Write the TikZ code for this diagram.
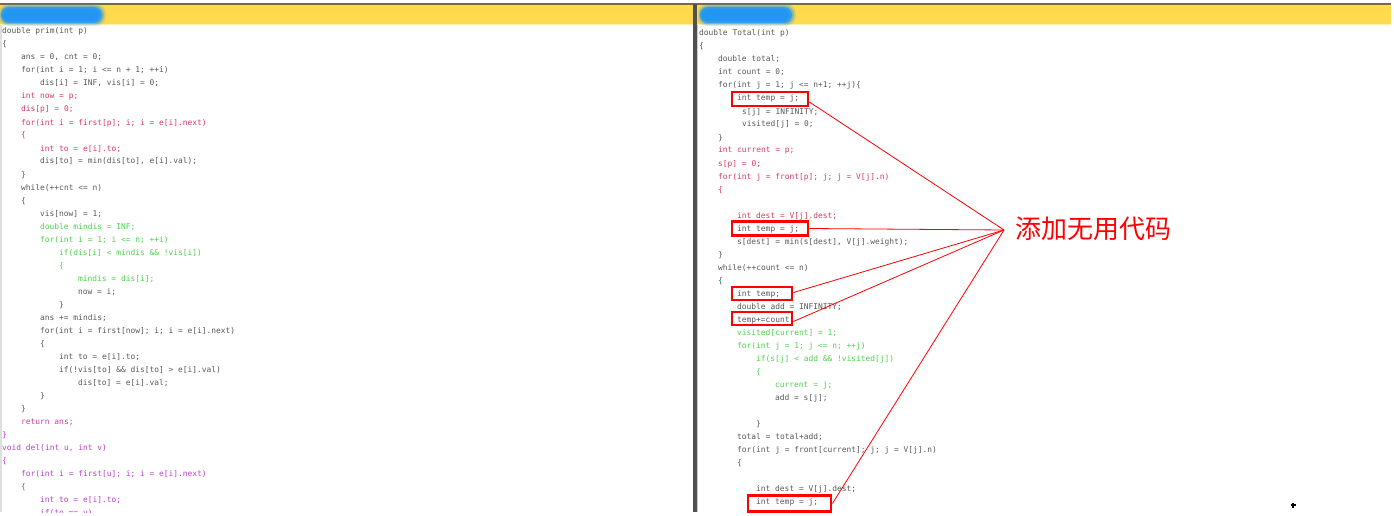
\documentclass[tikz,border=0pt]{standalone}
\usepackage{fontspec}
\setmonofont{DejaVu Sans Mono}
\newfontfamily\cjk{Noto Sans CJK SC}
\definecolor{cgray}{HTML}{5A5A5A}
\definecolor{cred}{HTML}{D83C64}
\definecolor{cgreen}{HTML}{4CD44C}
\definecolor{cpurp}{HTML}{B444CC}
\definecolor{cmag}{HTML}{C8409C}
\definecolor{barY}{HTML}{FFDA4F}
\definecolor{barline}{HTML}{7A6A3C}
\definecolor{blob}{HTML}{2196F3}
\definecolor{divider}{HTML}{505050}
\begin{document}
\begin{tikzpicture}[x=1pt,y=-1pt,
  code/.style={anchor=base west, inner sep=0pt, font=\fontsize{7.9}{9}\selectfont\ttfamily},
  tg/.style={code,text=cgray},
  tr/.style={code,text=cred},
  tgr/.style={code,text=cgreen},
  tp/.style={code,text=cpurp},
  tm/.style={code,text=cmag},
  redbox/.style={draw=red, line width=2.8pt, inner sep=0pt},
  link/.style={draw=red, line width=0.8pt}]
\fill[white] (0,0) rectangle (1394,516);
\useasboundingbox (0,0) rectangle (1394,516);
% top bar
\fill[barY] (0,5) rectangle (1391,24);
\fill[barY!45!white] (0,24) rectangle (1391,25.5);
\fill[barline] (0,3.5) rectangle (1391,5);
% panel edges
\fill[gray!25] (0,25.5) rectangle (2,512);
\fill[divider] (693,4) rectangle (696.5,512);
\fill[gray!40] (696.5,25.5) rectangle (698,512);
% blurred blobs
\begin{scope}
\clip (0,5) rectangle (693,25.5);
\fill[blob, opacity=.2, rounded corners=10pt] (-2,4) rectangle (106,26);
\fill[blob, opacity=.4, rounded corners=9pt] (0,5.5) rectangle (104,24.5);
\fill[blob, opacity=.8, rounded corners=8pt] (1,7) rectangle (102,23);
\fill[blob, rounded corners=6pt] (3,9) rectangle (99,21);
\end{scope}
\begin{scope}
\clip (698,5) rectangle (1391,25.5);
\fill[blob, opacity=.2, rounded corners=10pt] (697,4) rectangle (796,26);
\fill[blob, opacity=.4, rounded corners=9pt] (699,5.5) rectangle (794,24.5);
\fill[blob, opacity=.8, rounded corners=8pt] (700,7) rectangle (792,23);
\fill[blob, rounded corners=6pt] (702,9) rectangle (789,21);
\end{scope}

% left panel
\begin{scope}
\clip (0,25.5) rectangle (693,512);
\node[tg] (L0) at (2,34) {double prim(int p)};
\node[tg] (L1) at (2,47) {\{};
\node[tg] (L2) at (21,60) {ans = 0, cnt = 0;};
\node[tg] (L3) at (21,73) {for(int i = 1; i <= n + 1; ++i)};
\node[tg] (L4) at (40,86) {dis[i] = INF, vis[i] = 0;};
\node[tr] (L5) at (21,99) {int now = p;};
\node[tr] (L6) at (21,112) {dis[p] = 0;};
\node[tr] (L7) at (21,125) {for(int i = first[p]; i; i = e[i].next)};
\node[tr] (L8) at (21,138) {\{};
\node[tr] (L9) at (40,151) {int to = e[i].to;};
\node[tg] (L10) at (40,164) {dis[to] = min(dis[to], e[i].val);};
\node[tg] (L11) at (21,177) {\}};
\node[tg] (L12) at (21,190) {while(++cnt <= n)};
\node[tg] (L13) at (21,203) {\{};
\node[tg] (L14) at (40,216) {vis[now] = 1;};
\node[tgr] (L15) at (40,229) {double mindis = INF;};
\node[tgr] (L16) at (40,242) {for(int i = 1; i <= n; ++i)};
\node[tgr] (L17) at (59,255) {if(dis[i] < mindis \&\& !vis[i])};
\node[tgr] (L18) at (59,268) {\{};
\node[tgr] (L19) at (78,281) {mindis = dis[i];};
\node[tg] (L20) at (78,294) {now = i;};
\node[tg] (L21) at (59,307) {\}};
\node[tg] (L22) at (40,320) {ans += mindis;};
\node[tg] (L23) at (40,333) {for(int i = first[now]; i; i = e[i].next)};
\node[tg] (L24) at (40,346) {\{};
\node[tg] (L25) at (59,359) {int to = e[i].to;};
\node[tg] (L26) at (59,372) {if(!vis[to] \&\& dis[to] > e[i].val)};
\node[tg] (L27) at (78,385) {dis[to] = e[i].val;};
\node[tg] (L28) at (40,398) {\}};
\node[tg] (L29) at (21,411) {\}};
\node[tm] (L30) at (21,424) {return ans;};
\node[tp] (L31) at (2,437) {\}};
\node[tp] (L32) at (2,450) {void del(int u, int v)};
\node[tp] (L33) at (2,463) {\{};
\node[tp] (L34) at (21,476) {for(int i = first[u]; i; i = e[i].next)};
\node[tp] (L35) at (21,489) {\{};
\node[tp] (L36) at (40,502) {int to = e[i].to;};
\node[tp] (L37) at (40,515) {if(to == v)};
\end{scope}

% right panel
\begin{scope}
\clip (698,25.5) rectangle (1394,512);
\node[tg] (R0) at (699,36) {double Total(int p)};
\node[tg] (R1) at (699,49) {\{};
\node[tg] (R2) at (718,62) {double total;};
\node[tg] (R3) at (718,75) {int count = 0;};
\node[tg] (R4) at (718,88) {for(int j = 1; j <= n+1; ++j)\{};
\node[tg] (R5) at (737,101) {int temp = j;};
\node[tg] (R6) at (742,114) {s[j] = INFINITY;};
\node[tg] (R7) at (742,127) {visited[j] = 0;};
\node[tg] (R8) at (718,140) {\}};
\node[tr] (R9) at (718,153) {int current = p;};
\node[tr] (R10) at (718,166) {s[p] = 0;};
\node[tr] (R11) at (718,179) {for(int j = front[p]; j; j = V[j].n)};
\node[tr] (R12) at (718,192) {\{};
\node[tr] (R14) at (737,218) {int dest = V[j].dest;};
\node[tg] (R15) at (737,231) {int temp = j;};
\node[tg] (R16) at (737,244) {s[dest] = min(s[dest], V[j].weight);};
\node[tg] (R17) at (718,257) {\}};
\node[tg] (R18) at (718,270) {while(++count <= n)};
\node[tg] (R19) at (718,283) {\{};
\node[tg] (R20) at (737,296) {int temp;};
\node[tg] (R21) at (737,309) {double add = INFINITY;};
\node[tg] (R22) at (737,322) {temp+=count};
\node[tgr] (R23) at (737,335) {visited[current] = 1;};
\node[tgr] (R24) at (737,348) {for(int j = 1; j <= n; ++j)};
\node[tgr] (R25) at (756,361) {if(s[j] < add \&\& !visited[j])};
\node[tgr] (R26) at (756,374) {\{};
\node[tgr] (R27) at (775,387) {current = j;};
\node[tg] (R28) at (775,400) {add = s[j];};
\node[tg] (R30) at (756,426) {\}};
\node[tg] (R31) at (737,439) {total = total+add;};
\node[tg] (R32) at (737,452) {for(int j = front[current]; j; j = V[j].n)};
\node[tg] (R33) at (737,465) {\{};
\node[tg] (R35) at (756,491) {int dest = V[j].dest;};
\node[tg] (R36) at (756,504) {int temp = j;};
\end{scope}

% red boxes
\node[redbox, minimum width=76pt, minimum height=14pt] (b1) at (770,99) {};
\node[redbox, minimum width=76pt, minimum height=14pt] (b2) at (770,228.5) {};
\node[redbox, minimum width=60pt, minimum height=13pt] (b3) at (762,293.5) {};
\node[redbox, minimum width=60pt, minimum height=13pt] (b4) at (762,318.5) {};
\node[redbox, minimum width=83pt, minimum height=16pt] (b5) at (789.5,503.5) {};

% label and connectors
\coordinate (hub) at (1004,230);
\node[anchor=west, inner sep=0pt, text=red, font=\cjk\fontsize{26}{30}\selectfont] (lbl) at (1015,229) {添加无用代码};
\draw[link] ([yshift=-3pt]b1.east) -- (hub);
\draw[link] (b2.east) -- (hub);
\draw[link] ([yshift=1pt]b3.east) -- (hub);
\draw[link] ([yshift=-3pt]b4.east) -- (hub);
\draw[link] (b5.east) -- (hub);

% cursor mark
\draw[line width=1.3pt] (1290.5,505) -- (1295.5,505) (1293,502.5) -- (1293,507.5);
\end{tikzpicture}
\end{document}
